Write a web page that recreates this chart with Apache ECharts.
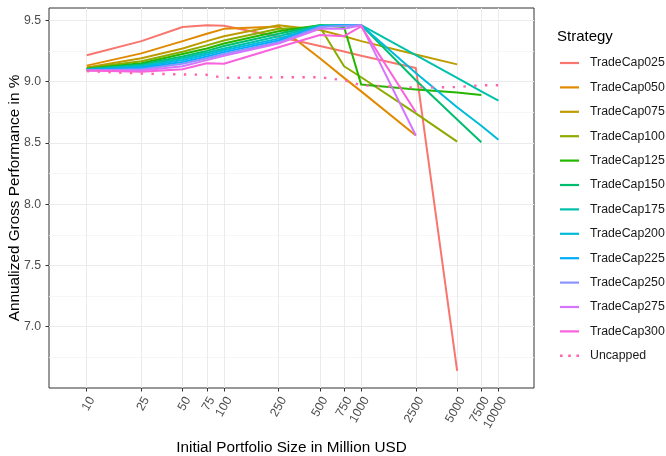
<!DOCTYPE html>
<html>
<head>
<meta charset="utf-8">
<script src="https://cdn.jsdelivr.net/npm/echarts@6/dist/echarts.min.js"></script>
<style>
html,body{margin:0;padding:0;background:#fff;}
#c{width:666px;height:456px;}
</style>
</head>
<body>
<div id="c"></div>
<script>
// ---- data ----
const sizes = [10, 25, 50, 75, 100, 250, 500, 750, 1000, 2500, 5000, 7500, 10000];
const xTickLabels = [10, 25, 50, 75, 100, 250, 500, 750, 1000, 2500, 5000, 7500, 10000];
const yTickLabels = [7.0, 7.5, 8.0, 8.5, 9.0, 9.5];
const yMinorTicks = [6.75, 7.25, 7.75, 8.25, 8.75, 9.25];

const strategies = ['TradeCap025','TradeCap050','TradeCap075','TradeCap100','TradeCap125','TradeCap150',
  'TradeCap175','TradeCap200','TradeCap225','TradeCap250','TradeCap275','TradeCap300','Uncapped'];

const cap025 = [9.215, 9.33, 9.445, 9.46, 9.455, 9.365, 9.29, 9.245, 9.21, 9.11, 6.64];
const cap050 = [9.13, 9.23, 9.33, 9.39, 9.43, 9.45, 9.19, 9.03, 8.92, 8.56];
const cap075 = [9.115, 9.19, 9.27, 9.33, 9.37, 9.46, 9.42, 9.37, 9.33, 9.22, 9.14];
const cap100 = [9.11, 9.165, 9.243, 9.295, 9.335, 9.43, 9.445, 9.125, 9.035, 8.74, 8.51];
const cap125 = [9.105, 9.15, 9.225, 9.27, 9.31, 9.41, 9.46, 9.445, 8.975, 8.935, 8.91, 8.89];
const cap150 = [9.1, 9.14, 9.205, 9.25, 9.29, 9.39, 9.46, 9.46, 9.46, 9.01, 8.69, 8.505];
const cap175 = [9.1, 9.13, 9.19, 9.235, 9.27, 9.37, 9.455, 9.46, 9.46, 9.215, 9.03, 8.92, 8.845];
const cap200 = [9.095, 9.12, 9.175, 9.22, 9.255, 9.35, 9.45, 9.46, 9.46, 9.07, 8.79, 8.64, 8.525];
const cap225 = [9.095, 9.11, 9.16, 9.205, 9.24, 9.335, 9.45, 9.46, 9.46];
const cap250 = [9.09, 9.10, 9.145, 9.19, 9.225, 9.32, 9.445, 9.455, 9.46];
const cap275 = [9.09, 9.09, 9.125, 9.175, 9.21, 9.31, 9.43, 9.43, 9.46, 8.56];
const cap300 = [9.09, 9.08, 9.10, 9.15, 9.145, 9.28, 9.38, 9.37, 9.45, 8.75];
const uncapped = [9.085, 9.065, 9.058, 9.055, 9.03, 9.035, 9.035, 9.01, 8.97, 8.95, 8.955, 8.97, 8.97];

const seriesValues = [cap025, cap050, cap075, cap100, cap125, cap150, cap175, cap200, cap225, cap250, cap275, cap300, uncapped];
const colors = ['#F8766D','#E18A00','#BE9C00','#8CAB00','#24B700','#00BE70','#00C1AB','#00BBDA','#00ACFC','#8B93FF','#D575FE','#F962DD','#FF65AC'];

// ---- chart ----
const FONT = 'Liberation Sans, Arial, sans-serif';
const chart = echarts.init(document.getElementById('c'), null, {renderer: 'canvas'});

const series = strategies.map((name, i) => ({
  name: name,
  type: 'line',
  xAxisIndex: 0,
  yAxisIndex: 0,
  symbol: 'none',
  showSymbol: false,
  animation: false,
  silent: true,
  color: colors[i],
  itemStyle: {color: colors[i]},
  lineStyle: name === 'Uncapped'
    ? {color: colors[i], width: 2.4, type: [2.4, 8.4], cap: 'butt'}
    : {color: colors[i], width: 2, cap: 'butt', join: 'round'},
  data: seriesValues[i].map((v, k) => [sizes[k], v]).filter(p => p[1] != null)
}));

const lineIcon = 'path://M0,0 L19,0 L19,2.2 L0,2.2 Z';
const dotIcon = 'path://M0,0 L2.6,0 L2.6,2.6 L0,2.6 Z M8.2,0 L10.8,0 L10.8,2.6 L8.2,2.6 Z M16.4,0 L19,0 L19,2.6 L16.4,2.6 Z';

const option = {
  animation: false,
  backgroundColor: '#ffffff',
  textStyle: {fontFamily: FONT},
  grid: {
    left: 49, right: 132, top: 8, bottom: 68,
    show: true, borderColor: '#333333', borderWidth: 1, backgroundColor: 'transparent',
    containLabel: false, outerBoundsMode: 'none'
  },
  legend: {
    orient: 'vertical',
    left: 560, top: 57, padding: 0,
    itemWidth: 19, itemHeight: 14, itemGap: 12.4,
    textStyle: {fontFamily: FONT, fontSize: 12.3, color: '#1a1a1a', padding: [0, 0, 0, 6]},
    data: strategies.map((n, i) => ({name: n, icon: n === 'Uncapped' ? dotIcon : lineIcon, itemStyle: {color: colors[i]}})),
    selectedMode: false
  },
  graphic: [{
    type: 'text', left: 557, top: 29,
    style: {text: 'Strategy', fontFamily: FONT, fontSize: 15, fill: '#000'}
  }],
  xAxis: [{
    type: 'log', logBase: 10,
    min: 5.31, max: 18155,
    name: 'Initial Portfolio Size in Million USD',
    nameLocation: 'middle', nameGap: 52, nameMoveOverlap: false,
    nameTextStyle: {fontFamily: FONT, fontSize: 15.3, color: '#000'},
    axisLine: {show: false},
    axisTick: {show: true, inside: false, length: 3.5, lineStyle: {color: '#333333', width: 1}, customValues: xTickLabels},
    axisLabel: {
      show: true, rotate: 60, margin: 7, fontFamily: FONT, fontSize: 12.3, color: '#4D4D4D',
      verticalAlign: 'top',
      customValues: xTickLabels,
      formatter: v => String(Math.round(v))
    },
    splitLine: {show: true, lineStyle: {color: '#EBEBEB', width: 1}},
    minorSplitLine: {show: false}
  }],
  yAxis: [{
    type: 'value',
    min: 6.5, max: 9.6, interval: 0.5,
    name: 'Annualized Gross Performance in %',
    nameLocation: 'middle', nameGap: 27, nameMoveOverlap: false,
    nameTextStyle: {fontFamily: FONT, fontSize: 15.3, color: '#000'},
    axisLine: {show: false},
    axisTick: {show: true, length: 3.5, lineStyle: {color: '#333333', width: 1}, customValues: yTickLabels},
    axisLabel: {
      show: true, margin: 8, fontFamily: FONT, fontSize: 12.3, color: '#4D4D4D',
      customValues: yTickLabels,
      formatter: v => v.toFixed(1)
    },
    splitLine: {show: true, lineStyle: {color: '#EBEBEB', width: 1}}
  }, {
    type: 'value',
    min: 6.5, max: 9.6, interval: 0.5,
    position: 'left',
    axisLine: {show: false},
    axisTick: {show: false, customValues: yMinorTicks},
    axisLabel: {show: false, customValues: yMinorTicks},
    splitLine: {show: true, lineStyle: {color: '#F4F4F4', width: 0.8}}
  }],
  series: series
};
chart.setOption(option);
</script>
</body>
</html>
